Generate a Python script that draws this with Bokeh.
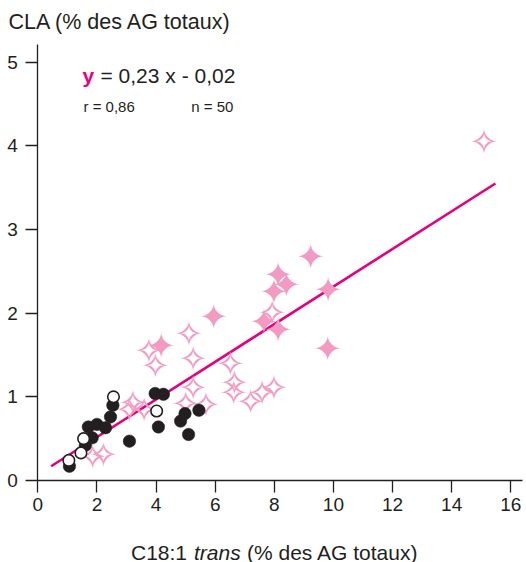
from bokeh.plotting import figure
from bokeh.models import Range1d, Label, FixedTicker
from bokeh.core.properties import value
from bokeh.embed import file_html
from bokeh.resources import INLINE

# ---- data ----
black_x = [1.07, 1.61, 1.84, 1.71, 2.00, 2.29, 2.46, 2.54, 3.10, 3.97, 4.25, 4.08, 4.83, 4.98, 5.10, 5.45]
black_y = [0.17, 0.42, 0.51, 0.64, 0.67, 0.63, 0.76, 0.90, 0.47, 1.04, 1.03, 0.64, 0.71, 0.80, 0.55, 0.84]

open_circle_x = [1.05, 1.46, 1.55, 2.56, 4.02]
open_circle_y = [0.24, 0.33, 0.50, 1.00, 0.83]

open_star_x = [1.86, 2.22, 3.22, 3.10, 3.60, 3.76, 3.98, 5.11, 5.26, 5.26, 5.00, 5.69,
               6.52, 6.65, 6.63, 7.20, 7.59, 7.99, 7.93, 15.09]
open_star_y = [0.28, 0.30, 0.93, 0.84, 0.84, 1.55, 1.37, 1.75, 1.45, 1.10, 0.91, 0.90,
               1.39, 1.17, 1.04, 0.94, 1.04, 1.10, 2.00, 4.05]

filled_star_x = [4.17, 5.95, 9.23, 8.13, 8.41, 7.99, 9.82, 7.65, 8.13, 9.81]
filled_star_y = [1.61, 1.95, 2.67, 2.46, 2.34, 2.25, 2.28, 1.89, 1.80, 1.57]

fit_x = [0.45, 15.48]
fit_y = [0.17, 3.55]

x_ticks = [0, 2, 4, 6, 8, 10, 12, 14, 16]
y_ticks = [0, 1, 2, 3, 4, 5]

# ---- style ----
INK = "#231f20"
PINK = "#f39ac2"
MAGENTA = "#e5007d"
FONT = "Liberation Sans"

W, H = 526, 562
X0_PX, Y0_PX = 37.3, 480.0      # pixel position of the origin
PX_X, PX_Y = 29.56, 83.66        # pixels per unit


def dx(px):
    return (px - X0_PX) / PX_X


def dy(py):
    return (Y0_PX - py) / PX_Y


p = figure(width=W, height=H, output_backend="svg", toolbar_location=None,
           x_range=Range1d(dx(0), dx(W)), y_range=Range1d(dy(H), dy(0)),
           min_border=0, min_border_left=0, min_border_right=0,
           min_border_top=0, min_border_bottom=0)
p.title.visible = False
p.outline_line_color = None
p.grid.visible = False
p.background_fill_color = "white"
p.border_fill_color = "white"

for ax in (p.xaxis[0], p.yaxis[0]):
    ax.fixed_location = 0
    ax.axis_line_color = INK
    ax.axis_line_width = 1.3
    ax.major_tick_line_color = INK
    ax.major_tick_line_width = 1.3
    ax.major_tick_in = 0
    ax.major_tick_out = 12
    ax.minor_tick_line_color = None
    ax.major_label_text_font = FONT
    ax.major_label_text_font_size = "19px"
    ax.major_label_text_color = INK

p.xaxis[0].ticker = FixedTicker(ticks=x_ticks)
p.yaxis[0].ticker = FixedTicker(ticks=y_ticks)
p.xaxis[0].bounds = (0, 16.4)
p.yaxis[0].bounds = (0, 5.21)
p.xaxis[0].major_label_standoff = 5
p.yaxis[0].major_label_standoff = 8

# regression line
p.line(fit_x, fit_y, line_color=MAGENTA, line_width=2.6)

# stars (four-pointed, as text glyphs)
p.text(x=open_star_x, y=open_star_y, text=["\u2727"] * len(open_star_x),
       text_font=value("DejaVu Sans"), text_font_size="35px", text_color=PINK,
       text_align="center", text_baseline="middle")
p.text(x=filled_star_x, y=filled_star_y, text=["\u2726"] * len(filled_star_x),
       text_font=value("DejaVu Sans"), text_font_size="35px", text_color=PINK,
       text_align="center", text_baseline="middle")

# circles
p.scatter(black_x, black_y, size=12.5, fill_color=INK, line_color=INK, line_width=0.5)
p.scatter(open_circle_x, open_circle_y, size=11.5, fill_color="white", line_color=INK, line_width=1.6)

# y-axis title (top-left)
p.add_layout(Label(x=dx(8), y=dy(21.5), text="CLA (% des AG totaux)", text_font=FONT,
                   text_font_size="21.5px", text_color=INK, text_baseline="middle"))

# equation
EQ_Y = dy(75)
p.add_layout(Label(x=dx(82), y=EQ_Y, text="y", text_font=FONT, text_font_size="21px",
                   text_font_style="bold", text_color=MAGENTA, text_baseline="middle"))
p.add_layout(Label(x=dx(100), y=EQ_Y, text="= 0,23 x - 0,02", text_font=FONT,
                   text_font_size="21px", text_color=INK, text_baseline="middle"))
R_Y = dy(105.5)
p.add_layout(Label(x=dx(83), y=R_Y, text="r = 0,86", text_font=FONT,
                   text_font_size="15px", text_color=INK, text_baseline="middle"))
p.add_layout(Label(x=dx(190.7), y=R_Y, text="n = 50", text_font=FONT,
                   text_font_size="15px", text_color=INK, text_baseline="middle"))

# x-axis title with italic "trans"
XL_Y = dy(551.5)
p.add_layout(Label(x=dx(130.5), y=XL_Y, text="C18:1", text_font=FONT,
                   text_font_size="21px", text_color=INK, text_baseline="middle"))
p.add_layout(Label(x=dx(193.5), y=XL_Y, text="trans", text_font=FONT,
                   text_font_size="21px", text_font_style="italic", text_color=INK,
                   text_baseline="middle"))
p.add_layout(Label(x=dx(246.5), y=XL_Y, text="(% des AG totaux)", text_font=FONT,
                   text_font_size="21px", text_color=INK, text_baseline="middle"))

open("out.html", "w").write(file_html(p, INLINE))
